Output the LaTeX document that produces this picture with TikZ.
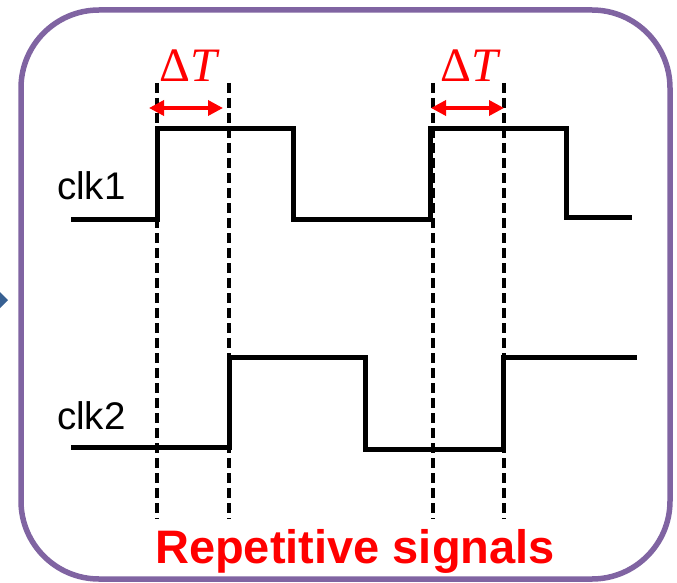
\documentclass[tikz,border=0pt]{standalone}
\usepackage{fontspec}
\newfontfamily\labelfont{Liberation Sans}
\newfontfamily\dtfont{Liberation Serif}
\usetikzlibrary{arrows.meta}
\definecolor{framepurple}{RGB}{128,100,162}
\definecolor{tipblue}{RGB}{55,96,146}
\definecolor{sigred}{RGB}{255,0,0}
\tikzset{
  frame/.style={draw=framepurple, line width=5.5pt, rounded corners=78pt},
  wave/.style={draw=black, line width=5pt, line join=miter},
  guide/.style={draw=black, line width=3.5pt, dash pattern=on 10pt off 5pt},
  delta/.style={draw=sigred, line width=3.5pt, {Triangle[length=15pt,width=15pt]}-{Triangle[length=15pt,width=15pt]}},
  clklabel/.style={font=\labelfont\fontsize{38.5}{38.5}\selectfont, inner sep=0pt, anchor=base west},
  dtlabel/.style={text=sigred, font=\dtfont\fontsize{48}{48}\selectfont, inner sep=0pt},
  title/.style={text=sigred, font=\labelfont\bfseries\fontsize{47}{47}\selectfont, inner sep=0pt, anchor=base west}
}
\begin{document}
\begin{tikzpicture}[x=1pt, y=-1pt]
\useasboundingbox (0,0) rectangle (677,583);
% left blue tip (cut off)
\fill[tipblue] (-18,300) -- (-5,287) -- (8,300) -- (-5,313) -- cycle;
% frame
\draw[frame] (21,10) rectangle (670,579);
% guides
\foreach \n/\x in {g1/157, g2/229, g3/433, g4/504} {
  \coordinate (\n t) at (\x,83);
  \coordinate (\n b) at (\x,519);
}
\draw[guide] (g1t) -- (g1b);
\draw[guide] (g2t) -- (g2b);
\draw[guide] (g3t) -- (g3b);
\draw[guide] (g4t) -- (g4b);
% clk1
\draw[wave] (71,219) -- (157,219) -- (157,129) -- (293,129) -- (293,219) -- (430,219) -- (430,129) -- (566,129) -- (566,217) -- (632,217);
% clk2
\draw[wave] (71,447) -- (229,447) -- (229,357) -- (365,357) -- (365,449) -- (503,449) -- (503,357) -- (637,357);
% labels
\node[clklabel] (c1) at (57,199) {clk1};
\node[clklabel] (c2) at (57,429) {clk2};
% delta T
\coordinate (a1l) at (149,108);
\coordinate (a1r) at (223,108);
\coordinate (a2l) at (431,108);
\coordinate (a2r) at (504,108);
\draw[delta] (a1l) -- (a1r);
\draw[delta] (a2l) -- (a2r);
\node[dtlabel, anchor=base] (d1) at (190,82) {Δ\textit{T}};
\node[dtlabel, anchor=base] (d2) at (471,82) {Δ\textit{T}};
% title
\node[title] (rs) at (155,563) {Repetitive signals};
\end{tikzpicture}
\end{document}
